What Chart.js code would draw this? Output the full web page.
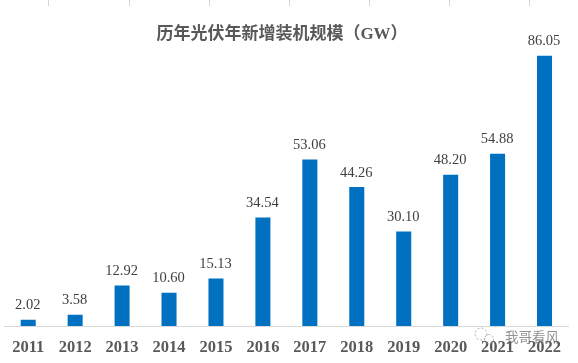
<!DOCTYPE html>
<html>
<head>
<meta charset="utf-8">
<script src="https://cdn.jsdelivr.net/npm/chart.js@4"></script>
<style>
body { margin: 0; background: #fff; }
canvas { display: block; }
</style>
</head>
<body>
<canvas id="grafico" width="578" height="363"></canvas>
<script>
const years = ['2011', '2012', '2013', '2014', '2015', '2016', '2017', '2018', '2019', '2020', '2021', '2022'];
const capacity = [2.02, 3.58, 12.92, 10.60, 15.13, 34.54, 53.06, 44.26, 30.10, 48.20, 54.88, 86.05];
const titleText = '历年光伏年新增装机规模（GW）';
const watermark = '我哥看风';
const rulerTicks = [48, 129, 209, 289, 369, 449, 529];

const serif = '"Liberation Serif", "Noto Sans CJK SC", serif';

// labels above the bars, title, watermark and the ruler marks at the very top
const extras = {
    id: 'extras',
    afterDatasetsDraw(chart) {
        const c = chart.ctx;
        c.save();

        c.strokeStyle = '#d4d4d4';
        c.lineWidth = 1;
        rulerTicks.forEach(x => {
            c.beginPath();
            c.moveTo(x + 0.5, 0);
            c.lineTo(x + 0.5, 6);
            c.stroke();
        });

        c.textAlign = 'center';
        c.textBaseline = 'bottom';
        c.fillStyle = '#404040';
        c.font = '14.5px ' + serif;
        chart.getDatasetMeta(0).data.forEach((bar, i) => {
            c.fillText(capacity[i].toFixed(2), bar.x - 0.5, bar.y - 7);
        });

        c.fillStyle = '#595959';
        c.font = 'bold 17px ' + serif;
        c.textBaseline = 'middle';
        c.fillText(titleText, 282, 34.5);

        // watermark
        c.strokeStyle = 'rgba(150,150,150,0.8)';
        c.setLineDash([2, 2]);
        c.beginPath();
        c.arc(481, 334, 6, 0, Math.PI * 2);
        c.stroke();
        c.beginPath();
        c.arc(489, 339, 4.5, 0, Math.PI * 2);
        c.stroke();
        c.setLineDash([]);
        c.fillStyle = 'rgba(110,110,110,0.75)';
        c.font = '13.5px "Noto Sans CJK SC"';
        c.textAlign = 'left';
        c.fillText(watermark, 505, 337);
        c.restore();
    }
};

new Chart(document.getElementById('grafico').getContext('2d'), {
    type: 'bar',
    data: {
        labels: years,
        datasets: [{
            data: capacity,
            backgroundColor: '#0070c0',
            borderWidth: 0,
            barPercentage: 0.32,
            categoryPercentage: 1
        }]
    },
    options: {
        responsive: false,
        animation: false,
        layout: { padding: { top: 12, left: 4, right: 10, bottom: 0 } },
        plugins: {
            legend: { display: false },
            title: { display: false },
            tooltip: { enabled: false }
        },
        scales: {
            y: { display: false, min: 0, max: 100 },
            x: {
                afterFit(scale) { scale.height = 37; },
                grid: { display: false, drawTicks: false },
                border: { color: '#d9d9d9', width: 1 },
                ticks: {
                    color: '#595959',
                    padding: 12,
                    maxRotation: 0,
                    autoSkip: false,
                    font: { family: serif, size: 16.5, weight: 'bold' }
                }
            }
        }
    },
    plugins: [extras]
});
</script>
</body>
</html>
